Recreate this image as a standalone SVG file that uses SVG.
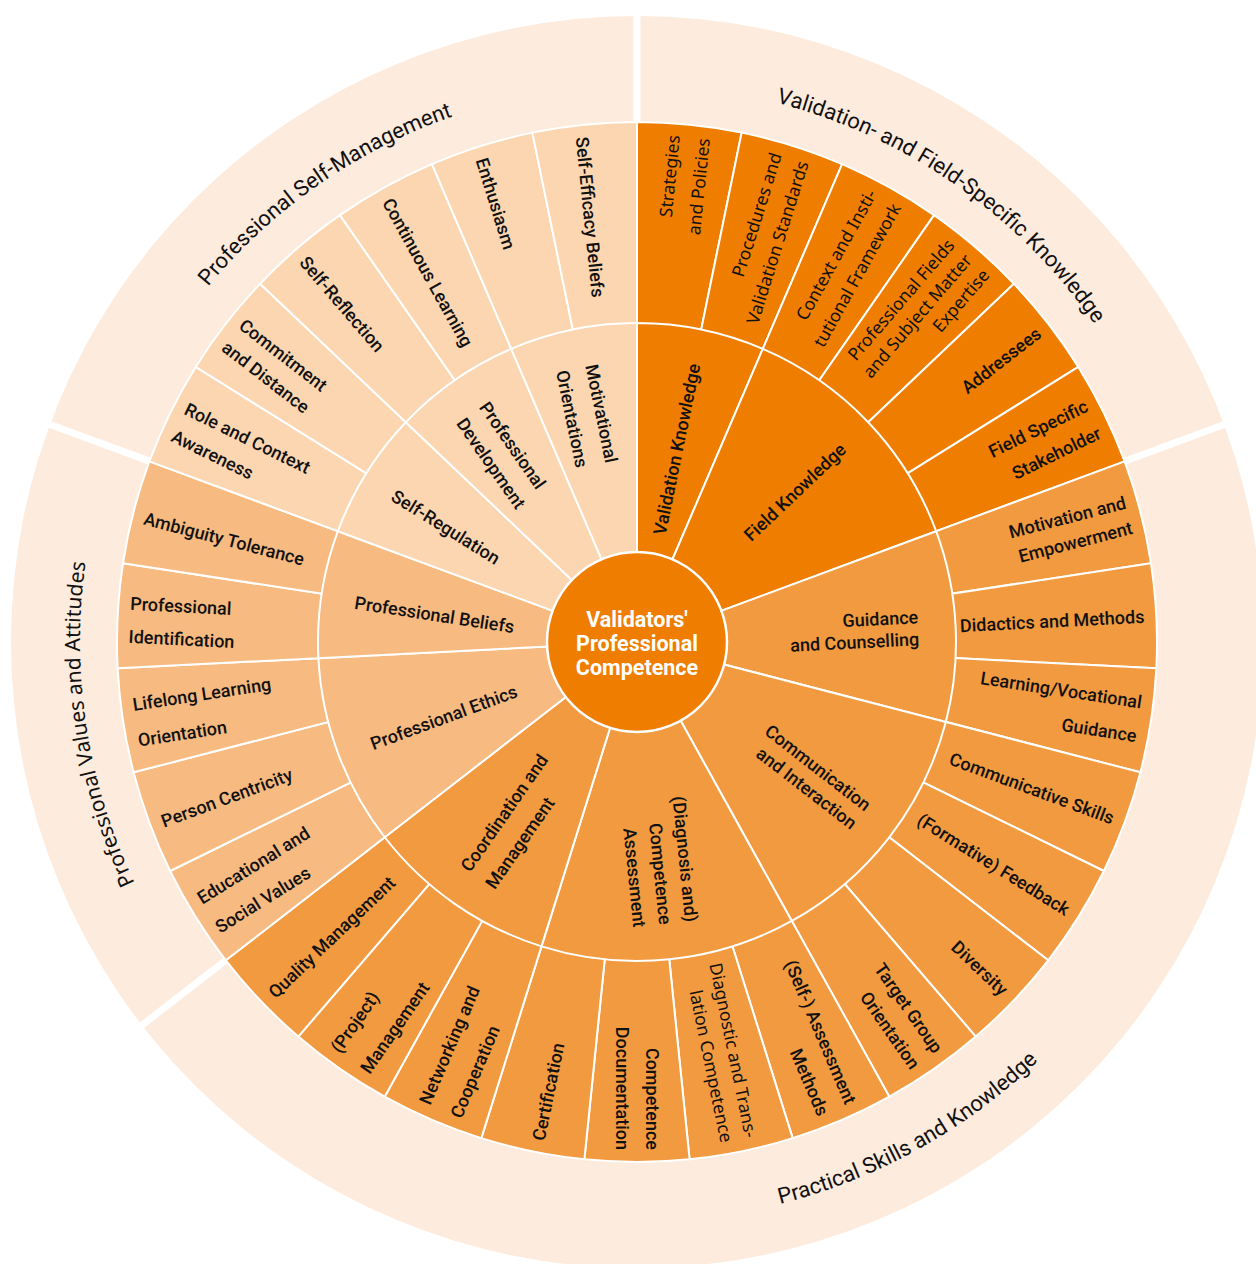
<svg xmlns="http://www.w3.org/2000/svg" width="1256" height="1264" viewBox="0 0 1256 1264">
<style>
.seg{stroke:#fff;stroke-width:2;stroke-linejoin:round}
.c1{fill:#EE7D00}.c2{fill:#F29A3F}.c3{fill:#F7BA80}.c4{fill:#FBD6B0}
text{font-family:Roboto,"DejaVu Sans",sans-serif;font-size:18px;font-weight:500;fill:#111}
.h{font-family:"Noto Sans","Open Sans",sans-serif;font-size:17.5px;font-weight:400}
.e{text-anchor:end}.s{text-anchor:start}
.ttl{font-size:22px;font-weight:400}
.ttlh{font-family:"Noto Sans","Open Sans",sans-serif;font-size:21px;font-weight:400}
.ctr{fill:#fff;font-weight:bold;font-size:21.5px;text-anchor:middle}
.gap{stroke:#fff;stroke-width:7}
</style>
<defs>
<path id="tp-sm" d="M114.67 448.55 A557 557 0 0 1 637 85"/>
<path id="tp-vf" d="M637 85 A557 557 0 0 1 1159.33 448.55"/>
<path id="tp-pv" d="M196.54 982.94 A557 557 0 0 1 114.67 448.55"/>
<path id="tp-ps" d="M178.35 997.02 A580 580 0 0 0 1180.90 440.56"/>
</defs>
<rect width="1256" height="1264" fill="#fff"/>
<g id="outer-band">
<circle cx="637" cy="642" r="626" fill="#FDEBDD"/>
<line class="gap" x1="637" y1="124" x2="637" y2="-8"/>
<line class="gap" x1="1122.75" y1="462.09" x2="1246.54" y2="416.25"/>
<line class="gap" x1="227.38" y1="959.07" x2="123" y2="1039.87"/>
<line class="gap" x1="152.25" y1="462.09" x2="27.46" y2="416.25"/>
<text class="ttl"><textPath href="#tp-sm" startOffset="50%" text-anchor="middle">Professional Self-Management</textPath></text>
<text class="ttl"><textPath href="#tp-vf" startOffset="50%" text-anchor="middle">Validation- and Field-Specific Knowledge</textPath></text>
<text class="ttlh"><textPath href="#tp-pv" startOffset="50%" text-anchor="middle">Professional Values and Attitudes</textPath></text>
<text class="ttl"><textPath href="#tp-ps" startOffset="50%" text-anchor="middle">Practical Skills and Knowledge</textPath></text>
</g>
<g id="leaves">
<g id="leaf-0"><path class="seg c1" d="M637 642 L637 122 A520 520 0 0 1 741.67 132.64 Z"/><text class="h e" transform="translate(637 642) rotate(-84.19)"><tspan x="508" y="-8.5">Strategies</tspan><tspan x="508" y="21.5">and Policies</tspan></text></g>
<g id="leaf-1"><path class="seg c1" d="M637 642 L741.67 132.64 A520 520 0 0 1 842.07 164.14 Z"/><text class="h e" transform="translate(637 642) rotate(-72.58)"><tspan x="508" y="-7.5">Procedures and</tspan><tspan x="508" y="20.5">Validation Standards</tspan></text></g>
<g id="leaf-2"><path class="seg c1" d="M637 642 L842.07 164.14 A520 520 0 0 1 934.06 215.19 Z"/><text class="h e" transform="translate(637 642) rotate(-60.97)"><tspan x="508" y="-7.5">Context and Insti-</tspan><tspan x="508" y="20.5">tutional Framework</tspan></text></g>
<g id="leaf-3"><path class="seg c1" d="M637 642 L934.06 215.19 A520 520 0 0 1 1013.89 283.74 Z"/><text class="h e" transform="translate(637 642) rotate(-49.35)"><tspan x="508" y="-16.5">Professional Fields</tspan><tspan x="508" y="6.5">and Subject Matter</tspan><tspan x="508" y="29.5">Expertise</tspan></text></g>
<g id="leaf-4"><path class="seg c1" d="M637 642 L1013.89 283.74 A520 520 0 0 1 1078.29 366.91 Z"/><text class="e" transform="translate(637 642) rotate(-37.74)"><tspan x="508" y="6.5">Addressees</tspan></text></g>
<g id="leaf-5"><path class="seg c1" d="M637 642 L1078.29 366.91 A520 520 0 0 1 1124.63 461.40 Z"/><text class="e" transform="translate(637 642) rotate(-26.13)"><tspan x="508" y="-8.5">Field Specific</tspan><tspan x="508" y="21.5">Stakeholder</tspan></text></g>
<g id="leaf-6"><path class="seg c2" d="M637 642 L1124.63 461.40 A520 520 0 0 1 1151.00 563.26 Z"/><text class="e" transform="translate(637 642) rotate(-14.52)"><tspan x="508" y="-6.5">Motivation and</tspan><tspan x="508" y="19.5">Empowerment</tspan></text></g>
<g id="leaf-7"><path class="seg c2" d="M637 642 L1151.00 563.26 A520 520 0 0 1 1156.33 668.34 Z"/><text class="e" transform="translate(637 642) rotate(-2.90)"><tspan x="508" y="6.5">Didactics and Methods</tspan></text></g>
<g id="leaf-8"><path class="seg c2" d="M637 642 L1156.33 668.34 A520 520 0 0 1 1140.40 772.34 Z"/><text class="e" transform="translate(637 642) rotate(8.71)"><tspan x="508" y="-10.5">Learning/Vocational</tspan><tspan x="508" y="23.5">Guidance</tspan></text></g>
<g id="leaf-9"><path class="seg c2" d="M637 642 L1140.40 772.34 A520 520 0 0 1 1103.86 871.00 Z"/><text class="e" transform="translate(637 642) rotate(20.32)"><tspan x="508" y="6.5">Communicative Skills</tspan></text></g>
<g id="leaf-10"><path class="seg c2" d="M637 642 L1103.86 871.00 A520 520 0 0 1 1048.20 960.29 Z"/><text class="e" transform="translate(637 642) rotate(31.94)"><tspan x="508" y="6.5">(Formative) Feedback</tspan></text></g>
<g id="leaf-11"><path class="seg c2" d="M637 642 L1048.20 960.29 A520 520 0 0 1 975.71 1036.55 Z"/><text class="e" transform="translate(637 642) rotate(43.55)"><tspan x="508" y="6.5">Diversity</tspan></text></g>
<g id="leaf-12"><path class="seg c2" d="M637 642 L975.71 1036.55 A520 520 0 0 1 889.36 1096.66 Z"/><text class="e" transform="translate(637 642) rotate(55.16)"><tspan x="508" y="-7.5">Target Group</tspan><tspan x="508" y="20.5">Orientation</tspan></text></g>
<g id="leaf-13"><path class="seg c2" d="M637 642 L889.36 1096.66 A520 520 0 0 1 792.67 1138.15 Z"/><text class="e" transform="translate(637 642) rotate(66.77)"><tspan x="508" y="-8.5">(Self-) Assessment</tspan><tspan x="508" y="21.5">Methods</tspan></text></g>
<g id="leaf-14"><path class="seg c2" d="M637 642 L792.67 1138.15 A520 520 0 0 1 689.60 1159.33 Z"/><text class="h e" transform="translate(637 642) rotate(78.39)"><tspan x="508" y="-6">Diagnostic and Trans-</tspan><tspan x="508" y="19">lation Competence</tspan></text></g>
<g id="leaf-15"><path class="seg c2" d="M637 642 L689.60 1159.33 A520 520 0 0 1 584.40 1159.33 Z"/><text class="e" transform="translate(637 642) rotate(90)"><tspan x="508" y="-8.5">Competence</tspan><tspan x="508" y="21.5">Documentation</tspan></text></g>
<g id="leaf-16"><path class="seg c2" d="M637 642 L584.40 1159.33 A520 520 0 0 1 481.33 1138.15 Z"/><text class="s" transform="translate(637 642) rotate(-78.39)"><tspan x="-508" y="10">Certification</tspan></text></g>
<g id="leaf-17"><path class="seg c2" d="M637 642 L481.33 1138.15 A520 520 0 0 1 384.64 1096.66 Z"/><text class="s" transform="translate(637 642) rotate(-66.77)"><tspan x="-508" y="-7">Networking and</tspan><tspan x="-508" y="27">Cooperation</tspan></text></g>
<g id="leaf-18"><path class="seg c2" d="M637 642 L384.64 1096.66 A520 520 0 0 1 298.29 1036.55 Z"/><text class="s" transform="translate(637 642) rotate(-55.16)"><tspan x="-508" y="-8">(Project)</tspan><tspan x="-508" y="28">Management</tspan></text></g>
<g id="leaf-19"><path class="seg c2" d="M637 642 L298.29 1036.55 A520 520 0 0 1 225.80 960.29 Z"/><text class="s" transform="translate(637 642) rotate(-43.55)"><tspan x="-508" y="10">Quality Management</tspan></text></g>
<g id="leaf-20"><path class="seg c3" d="M637 642 L225.80 960.29 A520 520 0 0 1 170.14 871.00 Z"/><text class="s" transform="translate(637 642) rotate(-31.94)"><tspan x="-508" y="-7">Educational and</tspan><tspan x="-508" y="27">Social Values</tspan></text></g>
<g id="leaf-21"><path class="seg c3" d="M637 642 L170.14 871.00 A520 520 0 0 1 133.60 772.34 Z"/><text class="s" transform="translate(637 642) rotate(-20.32)"><tspan x="-508" y="10">Person Centricity</tspan></text></g>
<g id="leaf-22"><path class="seg c3" d="M637 642 L133.60 772.34 A520 520 0 0 1 117.67 668.34 Z"/><text class="s" transform="translate(637 642) rotate(-8.71)"><tspan x="-508" y="-8">Lifelong Learning</tspan><tspan x="-508" y="28">Orientation</tspan></text></g>
<g id="leaf-23"><path class="seg c3" d="M637 642 L117.67 668.34 A520 520 0 0 1 123.00 563.26 Z"/><text class="s" transform="translate(637 642) rotate(2.90)"><tspan x="-508" y="-6.5">Professional</tspan><tspan x="-508" y="26.5">Identification</tspan></text></g>
<g id="leaf-24"><path class="seg c3" d="M637 642 L123.00 563.26 A520 520 0 0 1 149.37 461.40 Z"/><text class="s" transform="translate(637 642) rotate(14.52)"><tspan x="-508" y="10">Ambiguity Tolerance</tspan></text></g>
<g id="leaf-25"><path class="seg c4" d="M637 642 L149.37 461.40 A520 520 0 0 1 195.71 366.91 Z"/><text class="s" transform="translate(637 642) rotate(26.13)"><tspan x="-508" y="-5">Role and Context</tspan><tspan x="-508" y="25">Awareness</tspan></text></g>
<g id="leaf-26"><path class="seg c4" d="M637 642 L195.71 366.91 A520 520 0 0 1 260.11 283.74 Z"/><text class="s" transform="translate(637 642) rotate(37.74)"><tspan x="-508" y="-4">Commitment</tspan><tspan x="-508" y="24">and Distance</tspan></text></g>
<g id="leaf-27"><path class="seg c4" d="M637 642 L260.11 283.74 A520 520 0 0 1 339.94 215.19 Z"/><text class="s" transform="translate(637 642) rotate(49.35)"><tspan x="-508" y="10">Self-Reflection</tspan></text></g>
<g id="leaf-28"><path class="seg c4" d="M637 642 L339.94 215.19 A520 520 0 0 1 431.93 164.14 Z"/><text class="s" transform="translate(637 642) rotate(60.97)"><tspan x="-508" y="10">Continuous Learning</tspan></text></g>
<g id="leaf-29"><path class="seg c4" d="M637 642 L431.93 164.14 A520 520 0 0 1 532.33 132.64 Z"/><text class="s" transform="translate(637 642) rotate(72.58)"><tspan x="-508" y="10">Enthusiasm</tspan></text></g>
<g id="leaf-30"><path class="seg c4" d="M637 642 L532.33 132.64 A520 520 0 0 1 637 122 Z"/><text class="s" transform="translate(637 642) rotate(84.19)"><tspan x="-508" y="10">Self-Efficacy Beliefs</tspan></text></g>
</g>
<g id="categories">
<g id="cat-validation-knowledge"><path class="seg c1" d="M637 642 L637 323 A319 319 0 0 1 762.80 348.85 Z"/><text class="e" transform="translate(637 642) rotate(-78.39)"><tspan x="284" y="6.5">Validation Knowledge</tspan></text></g>
<g id="cat-field-knowledge"><path class="seg c1" d="M637 642 L762.80 348.85 A319 319 0 0 1 936.14 531.21 Z"/><text class="e" transform="translate(637 642) rotate(-43.55)"><tspan x="284" y="6.5">Field Knowledge</tspan></text></g>
<g id="cat-guidance"><path class="seg c2" d="M637 642 L936.14 531.21 A319 319 0 0 1 945.81 721.96 Z"/><text class="e" transform="translate(637 642) rotate(-2.90)"><tspan x="282" y="-4.5">Guidance</tspan><tspan x="282" y="17.5">and Counselling</tspan></text></g>
<g id="cat-communication"><path class="seg c2" d="M637 642 L945.81 721.96 A319 319 0 0 1 791.81 920.92 Z"/><text class="e" transform="translate(637 642) rotate(37.74)"><tspan x="284" y="-5">Communication</tspan><tspan x="284" y="18">and Interaction</tspan></text></g>
<g id="cat-assessment"><path class="seg c2" d="M637 642 L791.81 920.92 A319 319 0 0 1 541.50 946.37 Z"/><text class="e" transform="translate(637 642) rotate(84.19)"><tspan x="284" y="-19.5">(Diagnosis and)</tspan><tspan x="284" y="6.5">Competence</tspan><tspan x="284" y="32.5">Assessment</tspan></text></g>
<g id="cat-coordination"><path class="seg c2" d="M637 642 L541.50 946.37 A319 319 0 0 1 384.74 837.26 Z"/><text class="s" transform="translate(637 642) rotate(-55.16)"><tspan x="-285" y="-5">Coordination and</tspan><tspan x="-285" y="25">Management</tspan></text></g>
<g id="cat-ethics"><path class="seg c3" d="M637 642 L384.74 837.26 A319 319 0 0 1 318.41 658.16 Z"/><text class="s" transform="translate(637 642) rotate(-20.32)"><tspan x="-285" y="10">Professional Ethics</tspan></text></g>
<g id="cat-beliefs"><path class="seg c3" d="M637 642 L318.41 658.16 A319 319 0 0 1 337.86 531.21 Z"/><text class="s" transform="translate(637 642) rotate(8.71)"><tspan x="-285" y="10">Professional Beliefs</tspan></text></g>
<g id="cat-self-regulation"><path class="seg c4" d="M637 642 L337.86 531.21 A319 319 0 0 1 405.79 422.22 Z"/><text class="s" transform="translate(637 642) rotate(31.94)"><tspan x="-285" y="10">Self-Regulation</tspan></text></g>
<g id="cat-development"><path class="seg c4" d="M637 642 L405.79 422.22 A319 319 0 0 1 511.20 348.85 Z"/><text class="s" transform="translate(637 642) rotate(55.16)"><tspan x="-283" y="-4">Professional</tspan><tspan x="-283" y="24">Development</tspan></text></g>
<g id="cat-motivational"><path class="seg c4" d="M637 642 L511.20 348.85 A319 319 0 0 1 637 323 Z"/><text class="s" transform="translate(637 642) rotate(78.39)"><tspan x="-281" y="-5">Motivational</tspan><tspan x="-281" y="25">Orientations</tspan></text></g>
</g>
<g id="center">
<circle cx="637" cy="642" r="90" fill="#EE7D00" stroke="#fff" stroke-width="2.5"/>
<text class="ctr"><tspan x="637" y="627">Validators'</tspan><tspan x="637" y="651">Professional</tspan><tspan x="637" y="675">Competence</tspan></text>
</g>
<g id="connectors"/>
</svg>
